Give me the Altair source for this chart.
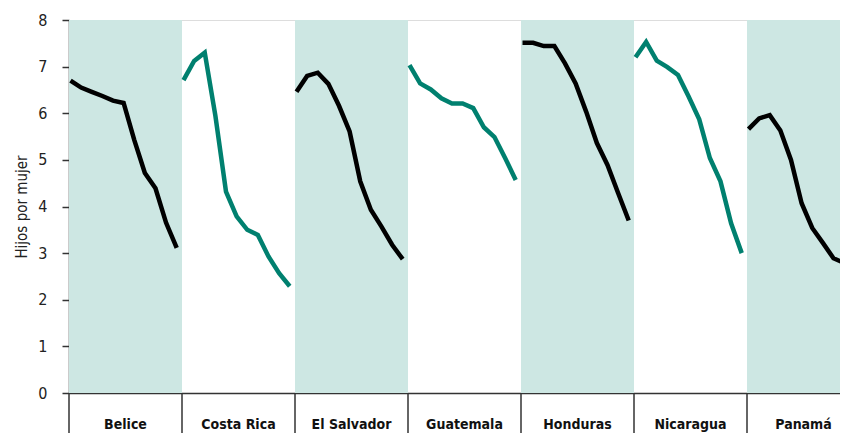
import altair as alt
import pandas as pd

countries = ["Belice", "Costa Rica", "El Salvador", "Guatemala", "Honduras", "Nicaragua", "Panamá"]
years = [1950, 1955, 1960, 1965, 1970, 1975, 1980, 1985, 1990, 1995, 2000]

belice = [6.70, 6.55, 6.46, 6.37, 6.27, 6.22, 5.43, 4.72, 4.39, 3.65, 3.11]
costa_rica = [6.71, 7.12, 7.30, 5.95, 4.32, 3.79, 3.50, 3.39, 2.93, 2.57, 2.29]
el_salvador = [6.46, 6.80, 6.87, 6.63, 6.16, 5.61, 4.54, 3.93, 3.57, 3.18, 2.87]
guatemala = [7.03, 6.64, 6.51, 6.32, 6.21, 6.21, 6.11, 5.70, 5.49, 5.04, 4.57]
honduras = [7.51, 7.51, 7.44, 7.44, 7.07, 6.64, 6.03, 5.36, 4.89, 4.29, 3.70]
nicaragua = [7.20, 7.53, 7.13, 6.99, 6.82, 6.36, 5.87, 5.04, 4.54, 3.64, 3.00]
panama = [5.66, 5.89, 5.96, 5.63, 5.00, 4.07, 3.54, 3.22, 2.89, 2.79, 2.62]

series = [belice, costa_rica, el_salvador, guatemala, honduras, nicaragua, panama]

BAND = "#cde7e3"
BLACK = "#000000"
TEAL = "#00806f"
FONT = "DejaVu Sans Condensed, Liberation Sans Narrow, Roboto, sans-serif"

rows = []
for i, (c, vals) in enumerate(zip(countries, series)):
    for j, (yr, v) in enumerate(zip(years, vals)):
        rows.append({
            "pais": c,
            "grupo": "a" if i % 2 == 0 else "b",
            "pos": i + 0.0133 + (yr - 1950) / 5 * 0.094,
            "valor": v,
        })
df = pd.DataFrame(rows)

panels = pd.DataFrame({
    "pais": countries,
    "x0": list(range(len(countries))),
    "x1": [i + 1 for i in range(len(countries))],
    "xc": [i + 0.5 for i in range(len(countries))],
    "sombra": [i % 2 == 0 for i in range(len(countries))],
})

W = 771
H = 373
xscale = alt.Scale(domain=[0, W / 113], nice=False, zero=False)
yscale = alt.Scale(domain=[0, 8], nice=False)

bands = alt.Chart(panels).transform_filter("datum.sombra").mark_rect(
    color=BAND, clip=True
).encode(
    x=alt.X("x0:Q", scale=xscale,
            axis=alt.Axis(title=None, labels=False, ticks=False, grid=False,
                          domain=True, domainColor="#333333", domainWidth=1.5)),
    x2="x1:Q",
    y=alt.datum(0, scale=yscale),
    y2=alt.datum(8),
)

lines = alt.Chart(df).mark_line(strokeWidth=4.5, clip=True).encode(
    x=alt.X("pos:Q", scale=xscale),
    y=alt.Y("valor:Q", scale=yscale,
            axis=alt.Axis(title="Hijos por mujer", values=list(range(9)),
                          grid=False, tickSize=7, tickColor="#333333", tickWidth=1.5,
                          domainColor="#333333", domainWidth=1.5,
                          labelFont=FONT, labelFontSize=16, labelColor="#222222",
                          labelPadding=15, titleFont=FONT, titleFontSize=15,
                          titleFontWeight="normal", titleColor="#222222",
                          titlePadding=8)),
    color=alt.Color("grupo:N", scale=alt.Scale(domain=["a", "b"], range=[BLACK, TEAL]),
                    legend=None),
    detail="pais:N",
)

seps = alt.Chart(panels).mark_rule(color="#333333", strokeWidth=1.5).encode(
    x=alt.X("x0:Q", scale=xscale),
    y=alt.value(H),
    y2=alt.value(H + 60),
)

labels = alt.Chart(panels).mark_text(
    font=FONT, fontSize=14, fontWeight="bold", color="#111111", baseline="alphabetic"
).encode(
    x=alt.X("xc:Q", scale=xscale),
    y=alt.value(H + 36),
    text="pais:N",
)

chart = alt.layer(bands, lines, seps, labels).properties(
    width=W, height=H,
    autosize=alt.AutoSizeParams(type="none"),
    padding={"left": 61, "top": 12, "right": 0, "bottom": 40},
).configure_view(stroke=None).configure(background="white")

chart.save("out.html", embed_options={"renderer": "svg", "actions": False})
